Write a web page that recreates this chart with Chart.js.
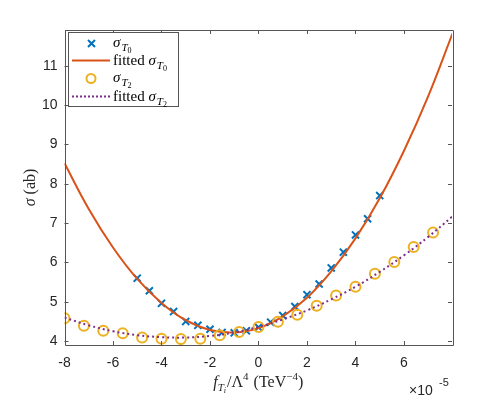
<!DOCTYPE html>
<html>
<head>
<meta charset="utf-8">
<script src="https://cdn.jsdelivr.net/npm/chart.js@4"></script>
<style>
  body { margin: 0; background: #fff; }
  #wrap { width: 498px; height: 399px; }
</style>
</head>
<body>
<div id="wrap"><canvas id="sigmaChart" width="498" height="399"></canvas></div>
<script>
// valeurs (abscisse en unites de 1e-5)
const t0X = [-5, -4.5, -4, -3.5, -3, -2.5, -2, -1.5, -1, -0.5, 0, 0.5, 1, 1.5, 2, 2.5, 3, 3.5, 4, 4.5, 5];
const t0Sigma = [5.60, 5.28, 4.96, 4.75, 4.50, 4.40, 4.30, 4.22, 4.21, 4.26, 4.35, 4.48, 4.65, 4.88, 5.18, 5.45, 5.86, 6.26, 6.70, 7.11, 7.70];

const t2X = [-8, -7.2, -6.4, -5.6, -4.8, -4, -3.2, -2.4, -1.6, -0.8, 0, 0.8, 1.6, 2.4, 3.2, 4, 4.8, 5.6, 6.4, 7.2];
const t2Sigma = [4.58, 4.39, 4.26, 4.20, 4.09, 4.06, 4.05, 4.06, 4.15, 4.23, 4.36, 4.49, 4.67, 4.90, 5.16, 5.38, 5.71, 6.01, 6.39, 6.76];

// courbes ajustees
const fitX = [-8, -7, -6, -5, -4, -3, -2, -1, 0, 1, 2, 3, 4, 5, 6, 7, 8];
const fitT0 = [8.52, 7.36, 6.38, 5.58, 4.97, 4.53, 4.28, 4.22, 4.33, 4.63, 5.10, 5.77, 6.61, 7.63, 8.84, 10.23, 11.82];
const fitT2 = [4.60, 4.40, 4.25, 4.15, 4.10, 4.09, 4.13, 4.22, 4.36, 4.55, 4.78, 5.06, 5.38, 5.76, 6.18, 6.65, 7.17];

const xTicks = [-8, -6, -4, -2, 0, 2, 4, 6];
const yTicks = [4, 5, 6, 7, 8, 9, 10, 11];

const toPts = (xs, ys) => xs.map((x, i) => ({ x: x, y: ys[i] }));

const AXIS = "#262626";
const SERIF = '"Liberation Serif", "DejaVu Serif", serif';

// texte avec indices / exposants
function richText(ctx, x, y, parts) {
    let cx = x;
    parts.forEach(p => {
        ctx.font = p.font;
        ctx.fillText(p.t, cx, y + (p.dy || 0));
        cx += ctx.measureText(p.t).width + (p.gap || 0);
    });
    return cx;
}
function richWidth(ctx, parts) {
    let w = 0;
    parts.forEach(p => { ctx.font = p.font; w += ctx.measureText(p.t).width + (p.gap || 0); });
    return w;
}

const sigmaSub = (n) => [
    { t: "σ", font: "italic 15px " + SERIF, gap: 1 },
    { t: "T", font: "italic 11px " + SERIF, dy: 4 },
    { t: n, font: "8px " + SERIF, dy: 6 }
];

const decorPlugin = {
    id: "decor",
    afterDraw(chart) {
        const ctx = chart.ctx;
        const a = chart.chartArea;
        const xs = chart.scales.x, ys = chart.scales.y;
        ctx.save();
        // cadre et graduations vers l'interieur
        ctx.strokeStyle = "#555";
        ctx.lineWidth = 1;
        ctx.beginPath();
        ctx.rect(Math.round(a.left) + 0.5, Math.round(a.top) + 0.5, Math.round(a.right - a.left), Math.round(a.bottom - a.top));
        xTicks.forEach(v => {
            const px = Math.round(xs.getPixelForValue(v)) + 0.5;
            ctx.moveTo(px, a.bottom); ctx.lineTo(px, a.bottom - 4);
            ctx.moveTo(px, a.top); ctx.lineTo(px, a.top + 4);
        });
        yTicks.forEach(v => {
            const py = Math.round(ys.getPixelForValue(v)) + 0.5;
            ctx.moveTo(a.left, py); ctx.lineTo(a.left + 4, py);
            ctx.moveTo(a.right, py); ctx.lineTo(a.right - 4, py);
        });
        ctx.stroke();

        ctx.fillStyle = AXIS;
        ctx.textBaseline = "alphabetic";
        // titre axe x
        const xParts = [
            { t: "f", font: "italic 16px " + SERIF },
            { t: "T", font: "italic 11px " + SERIF, dy: 4 },
            { t: "i", font: "italic 8px " + SERIF, dy: 6, gap: 1 },
            { t: "/Λ", font: "16px " + SERIF },
            { t: "4", font: "11px " + SERIF, dy: -7, gap: 5 },
            { t: "(TeV", font: "16px " + SERIF },
            { t: "−4", font: "11px " + SERIF, dy: -7 },
            { t: ")", font: "16px " + SERIF }
        ];
        const xw = richWidth(ctx, xParts);
        richText(ctx, (a.left + a.right) / 2 - xw / 2, 387, xParts);

        // facteur d'echelle
        ctx.font = "14px Helvetica, Arial, sans-serif";
        ctx.fillText("×10", 409, 395);
        ctx.font = "11px Helvetica, Arial, sans-serif";
        ctx.fillText("-5", 439, 386);

        // titre axe y
        ctx.save();
        ctx.translate(35, (a.top + a.bottom) / 2);
        ctx.rotate(-Math.PI / 2);
        const yParts = [
            { t: "σ", font: "italic 16px " + SERIF, gap: 4 },
            { t: "(ab)", font: "16px " + SERIF }
        ];
        const yw = richWidth(ctx, yParts);
        richText(ctx, -yw / 2, 0, yParts);
        ctx.restore();

        // legende
        const lx = 68, ly = 32, lw = 110, lh = 74;
        ctx.fillStyle = "#fff";
        ctx.fillRect(lx, ly, lw, lh);
        ctx.strokeStyle = "#555";
        ctx.strokeRect(lx + 0.5, ly + 0.5, lw, lh);
        const rows = [43.5, 60.5, 78.5, 96.5];
        // croix
        ctx.strokeStyle = "#0072BD"; ctx.lineWidth = 2;
        ctx.beginPath();
        ctx.moveTo(88, rows[0] - 3.5); ctx.lineTo(95, rows[0] + 3.5);
        ctx.moveTo(95, rows[0] - 3.5); ctx.lineTo(88, rows[0] + 3.5);
        ctx.stroke();
        // ligne ajustee T0
        ctx.strokeStyle = "#D95319"; ctx.lineWidth = 2;
        ctx.beginPath(); ctx.moveTo(72, rows[1]); ctx.lineTo(110, rows[1]); ctx.stroke();
        // cercle
        ctx.strokeStyle = "#EDB120"; ctx.lineWidth = 2;
        ctx.beginPath(); ctx.arc(91, rows[2], 4.5, 0, Math.PI * 2); ctx.stroke();
        // pointilles T2
        ctx.strokeStyle = "#7E2F8E"; ctx.setLineDash([2, 2]);
        ctx.beginPath(); ctx.moveTo(72, rows[3]); ctx.lineTo(110, rows[3]); ctx.stroke();
        ctx.setLineDash([]);

        ctx.fillStyle = "#000";
        richText(ctx, 113, rows[0] + 3, sigmaSub("0"));
        richText(ctx, 113, rows[1] + 4, [{ t: "fitted ", font: "15px " + SERIF }].concat(sigmaSub("0")));
        richText(ctx, 113, rows[2] + 3, sigmaSub("2"));
        richText(ctx, 113, rows[3] + 4, [{ t: "fitted ", font: "15px " + SERIF }].concat(sigmaSub("2")));
        ctx.restore();
    }
};

const ctx = document.getElementById("sigmaChart").getContext("2d");

new Chart(ctx, {
    type: "scatter",
    data: {
        datasets: [{
            label: "sigma T0",
            data: toPts(t0X, t0Sigma),
            pointStyle: "crossRot",
            pointRadius: 5,
            borderColor: "#0072BD",
            backgroundColor: "#0072BD",
            pointBorderWidth: 2,
            order: 4
        }, {
            label: "fitted sigma T0",
            data: toPts(fitX, fitT0),
            showLine: true,
            tension: 0.4,
            pointRadius: 0,
            borderColor: "#D95319",
            borderWidth: 2,
            order: 3
        }, {
            label: "sigma T2",
            data: toPts(t2X, t2Sigma),
            pointStyle: "circle",
            pointRadius: 5,
            borderColor: "#EDB120",
            backgroundColor: "rgba(0,0,0,0)",
            pointBorderWidth: 2,
            order: 2
        }, {
            label: "fitted sigma T2",
            data: toPts(fitX, fitT2),
            showLine: true,
            tension: 0.4,
            pointRadius: 0,
            borderColor: "#7E2F8E",
            borderWidth: 2,
            borderDash: [2, 3],
            order: 1
        }]
    },
    options: {
        responsive: false,
        animation: false,
        layout: { padding: { top: 30, right: 46, left: 0, bottom: 0 } },
        plugins: {
            legend: { display: false },
            tooltip: { enabled: false }
        },
        scales: {
            x: {
                type: "linear",
                min: -8,
                max: 7.98,
                grid: { display: false, drawTicks: false },
                border: { display: false },
                afterFit: (s) => { s.height = 54; },
                afterBuildTicks: (s) => { s.ticks = xTicks.map(v => ({ value: v })); },
                ticks: {
                    padding: 10,
                    color: AXIS,
                    font: { family: "Helvetica, Arial, 'Liberation Sans', sans-serif", size: 14 }
                }
            },
            y: {
                type: "linear",
                min: 3.9,
                max: 11.91,
                grid: { display: false, drawTicks: false },
                border: { display: false },
                afterFit: (s) => { s.width = 64.5; },
                afterBuildTicks: (s) => { s.ticks = yTicks.map(v => ({ value: v })); },
                ticks: {
                    padding: 7,
                    color: AXIS,
                    font: { family: "Helvetica, Arial, 'Liberation Sans', sans-serif", size: 14 }
                }
            }
        }
    },
    plugins: [decorPlugin]
});
</script>
</body>
</html>
